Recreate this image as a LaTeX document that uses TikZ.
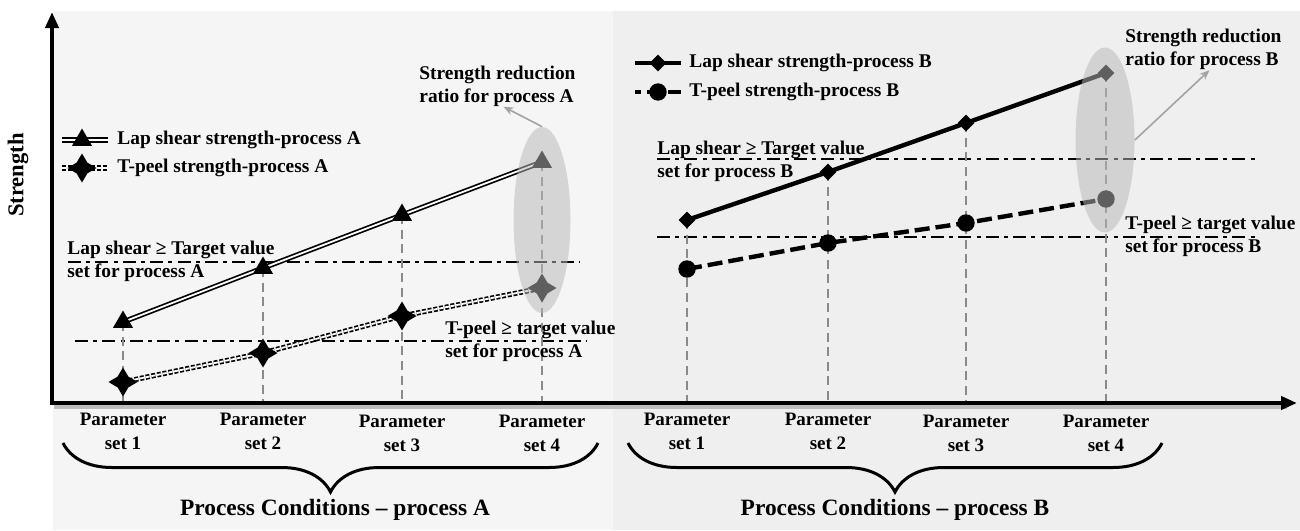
\documentclass[tikz,border=0pt]{standalone}
\usepackage{fontspec}
\setmainfont{Liberation Serif}
\usetikzlibrary{arrows.meta,positioning,shapes.geometric,decorations.pathreplacing}
\definecolor{PanelA}{HTML}{F5F5F5}
\definecolor{PanelB}{HTML}{EFEFEF}
\definecolor{GuideGris}{HTML}{8A8A8A}
\definecolor{RatioGris}{HTML}{B8B8B8}
\definecolor{PointerGris}{HTML}{A3A3A3}
\definecolor{ShadowGris}{HTML}{BDBDBD}
\tikzset{
  tri/.style={regular polygon,regular polygon sides=3,fill=black,inner sep=0pt,minimum size=11.5pt},
  sparkle/.style={star,star points=4,star point ratio=1.9,fill=black,inner sep=0pt,minimum size=14.5pt},
  dia/.style={diamond,fill=black,inner sep=0pt,minimum size=8.5pt},
  disc/.style={circle,fill=black,inner sep=0pt,minimum size=8.7pt},
  lapA/.style={draw=black,double=white,double distance=.9pt,line width=.85pt},
  peelA/.style={lapA,dash pattern=on 2pt off .9pt},
  lapB/.style={line width=2.2pt},
  peelB/.style={line width=2.2pt,dash pattern=on 7.5pt off 3pt},
  target/.style={line width=1.4pt,dash pattern=on 6.5pt off 2.6pt on 2pt off 2.6pt},
  guide/.style={GuideGris,line width=1.2pt,dash pattern=on 4.5pt off 2.8pt},
  ratio/.style={ellipse,fill=RatioGris,fill opacity=.52,inner sep=0pt},
  pointer/.style={PointerGris,line width=.8pt,-{Stealth[length=5pt,width=4pt]}},
  note/.style={align=left,anchor=west,inner sep=0pt},
  parlab/.style={align=center,inner sep=0pt,font=\fontsize{9.5}{12}\selectfont\bfseries},
  axisline/.style={line width=2pt,{Triangle[length=8pt,width=6.5pt]}-{Triangle[length=8pt,width=6.5pt]}},
  curly/.style={decorate,decoration={brace,mirror,amplitude=24.5pt},line width=1.5pt},
}
\begin{document}
\begin{tikzpicture}[x=.5pt,y=-.5pt,font=\fontsize{9.7}{11.5}\selectfont\bfseries,>=Stealth]
\useasboundingbox[fill=white] (0,0) rectangle (1300,530);
\fill[PanelA] (53,11) rectangle (613,530);
\fill[PanelB] (613,11) rectangle (1300,530);
\draw[target] (68,262)--(580,262);
\draw[target] (75,341)--(587,341);
\draw[target] (657,159)--(1257,159);
\draw[target] (657,237)--(1257,237);
\foreach \i/\x/\ylap/\ypeel in {1/123/322/382,2/263/268/353,3/402/215/316,4/542/162/288}{
  \coordinate (lapA\i) at (\x,\ylap);
  \coordinate (peelA\i) at (\x,\ypeel);
  \coordinate (setA\i) at (\x,403);
  \draw[guide] (lapA\i)--(setA\i);
}
\foreach \i/\x/\ylap/\ypeel in {1/687/220/269,2/828/172/243,3/966/123/223,4/1106/73/199}{
  \coordinate (lapB\i) at (\x,\ylap);
  \coordinate (peelB\i) at (\x,\ypeel);
  \coordinate (setB\i) at (\x,403);
  \draw[guide] (lapB\i)--(setB\i);
}
\coordinate (origin) at (52,403);
\coordinate (ytip) at (52,12);
\coordinate (xtip) at (1297,403);
\draw[ShadowGris,line width=2pt] ([shift={(2,4)}]origin)--([shift={(-10,4)}]xtip);
\draw[axisline] (ytip)--(origin)--(xtip);
\draw[lapA] (lapA1)--(lapA2)--(lapA3)--(lapA4);
\draw[peelA] (peelA1)--(peelA2)--(peelA3)--(peelA4);
\draw[lapB] (lapB1)--(lapB2)--(lapB3)--(lapB4);
\draw[peelB] (peelB1)--(peelB2)--(peelB3)--(peelB4);
\foreach \i in {1,...,4}{
  \node[tri] (markLapA\i) at (lapA\i) {};
  \node[sparkle] (markPeelA\i) at (peelA\i) {};
  \node[dia] (markLapB\i) at (lapB\i) {};
  \node[disc] (markPeelB\i) at (peelB\i) {};
}
\node[ratio,minimum width=28.5pt,minimum height=93pt] (ratioA) at (542,220) {};
\node[ratio,minimum width=29.5pt,minimum height=92.5pt] (ratioB) at (1105,140) {};
\node[note] (redA) at (419,86) {Strength reduction\\ratio for process A};
\node[note] (redB) at (1125,49.5) {Strength reduction\\ratio for process B};
\draw[pointer] (ratioA.north)--([xshift=3pt]redA.south);
\draw[pointer] (ratioB.east)--([xshift=3pt]redB.south);
\node[note] (limLapA) at (67,261.5) {Lap shear ≥ Target value\\set for process A};
\node[note] (limPeelA) at (445,341) {T-peel ≥ target value\\set for process A};
\node[note] (limLapB) at (657,161) {Lap shear ≥ Target value\\set for process B};
\node[note] (limPeelB) at (1125,236.5) {T-peel ≥ target value\\set for process B};
\coordinate (keyLapA) at (85,140);
\coordinate (keyPeelA) at (85,168);
\coordinate (keyLapB) at (658,63);
\coordinate (keyPeelB) at (658,92);
\draw[lapA] ([xshift=-11.5pt]keyLapA)--([xshift=11.5pt]keyLapA);
\draw[peelA] ([xshift=-11.5pt]keyPeelA)--([xshift=11.5pt]keyPeelA);
\draw[lapB] ([xshift=-11.5pt]keyLapB)--([xshift=11.5pt]keyLapB);
\draw[peelB,dash phase=4.5pt] ([xshift=-11.5pt]keyPeelB)--([xshift=11.5pt]keyPeelB);
\node[tri] (keyTriA) at (82,140) {};
\node[sparkle] (keyStarA) at (82,168) {};
\node[dia] (keyDiaB) at (keyLapB) {};
\node[disc] (keyDiscB) at (keyPeelB) {};
\node[note] (txtLapA) at (117,140) {Lap shear strength-process A};
\node[note] (txtPeelA) at (117,168) {T-peel strength-process A};
\node[note] (txtLapB) at (689,63) {Lap shear strength-process B};
\node[note] (txtPeelB) at (689,92) {T-peel strength-process B};
\node[rotate=90,font=\fontsize{11.3}{13}\selectfont\bfseries] (strengthlab) at (18,175) {Strength};
\foreach \i/\x/\y in {1/123/431,2/263/431,3/402/433,4/542/433}
  \node[parlab] (parA\i) at (\x,\y) {Parameter\\set \i};
\foreach \i/\x/\y in {1/687/431,2/828/431,3/966/433,4/1106/433}
  \node[parlab] (parB\i) at (\x,\y) {Parameter\\set \i};
\coordinate (braceA0) at (63,443);
\coordinate (braceA1) at (598,443);
\coordinate (braceB0) at (628,443);
\coordinate (braceB1) at (1162,443);
\draw[curly] (braceA0)--(braceA1);
\draw[curly] (braceB0)--(braceB1);
\node[font=\fontsize{11.7}{14}\selectfont\bfseries] (procA) at (335,510) {Process Conditions -- process A};
\node[font=\fontsize{11.7}{14}\selectfont\bfseries] (procB) at (895,510) {Process Conditions -- process B};
\end{tikzpicture}
\end{document}
